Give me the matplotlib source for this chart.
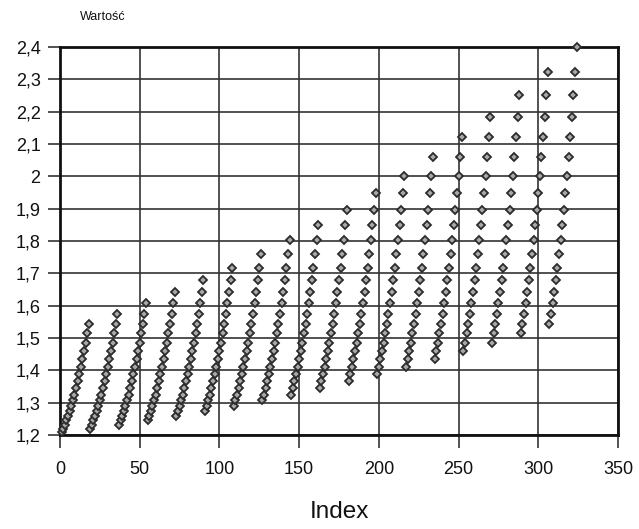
import matplotlib
matplotlib.use("Agg")
import matplotlib.pyplot as plt
from matplotlib.ticker import FuncFormatter, MultipleLocator

# value levels, lowest to highest
# (each group of 18 points uses 18 consecutive levels, one level higher per group)
levels = [1.208, 1.218, 1.231, 1.245, 1.259, 1.274, 1.290, 1.307, 1.325,
          1.344, 1.366, 1.388, 1.411, 1.434, 1.460, 1.486, 1.514, 1.543,
          1.575, 1.607, 1.642, 1.679, 1.718, 1.760, 1.803, 1.849, 1.897,
          1.949, 2.001, 2.059, 2.121, 2.184, 2.253, 2.323, 2.400]
n_groups = 18
group_len = 18

index = []
values = []
for g in range(n_groups):
    for j in range(group_len):
        index.append(g * group_len + j + 1)
        values.append(levels[g + j])

plt.rcParams['font.family'] = ['Liberation Sans', 'DejaVu Sans']

fig = plt.figure(figsize=(6.39, 5.29), dpi=100)
ax = fig.add_axes([60 / 639, 94 / 529, 558 / 639, 388 / 529])

ax.plot(index, values, linestyle='none', marker='D', markersize=4.4,
        markerfacecolor='#a8a8a8', markeredgecolor='#2b2b2b',
        markeredgewidth=1.3, clip_on=False, zorder=3)

ax.set_xlim(0, 350)
ax.set_ylim(1.2, 2.4)
ax.xaxis.set_major_locator(MultipleLocator(50))
ax.yaxis.set_major_locator(MultipleLocator(0.1))
ax.yaxis.set_major_formatter(FuncFormatter(lambda v, p: ('%g' % round(v, 2)).replace('.', ',')))

ax.grid(True, color='#333333', linewidth=1.2)
ax.set_axisbelow(True)
for s in ax.spines.values():
    s.set_linewidth(2.0)
    s.set_color('#111111')

ax.tick_params(axis='both', length=9, width=1.2, color='#333333',
               labelsize=13, labelcolor='#111111')
ax.tick_params(axis='x', pad=10)
ax.tick_params(axis='y', pad=5)

ax.set_xlabel('Index', fontsize=17.5, labelpad=16, color='#111111')
fig.text(80 / 639, 1 - 17 / 529, 'Wartość', fontsize=9, ha='left', va='center',
         color='#111111')

fig.savefig('out.png', dpi=100)
